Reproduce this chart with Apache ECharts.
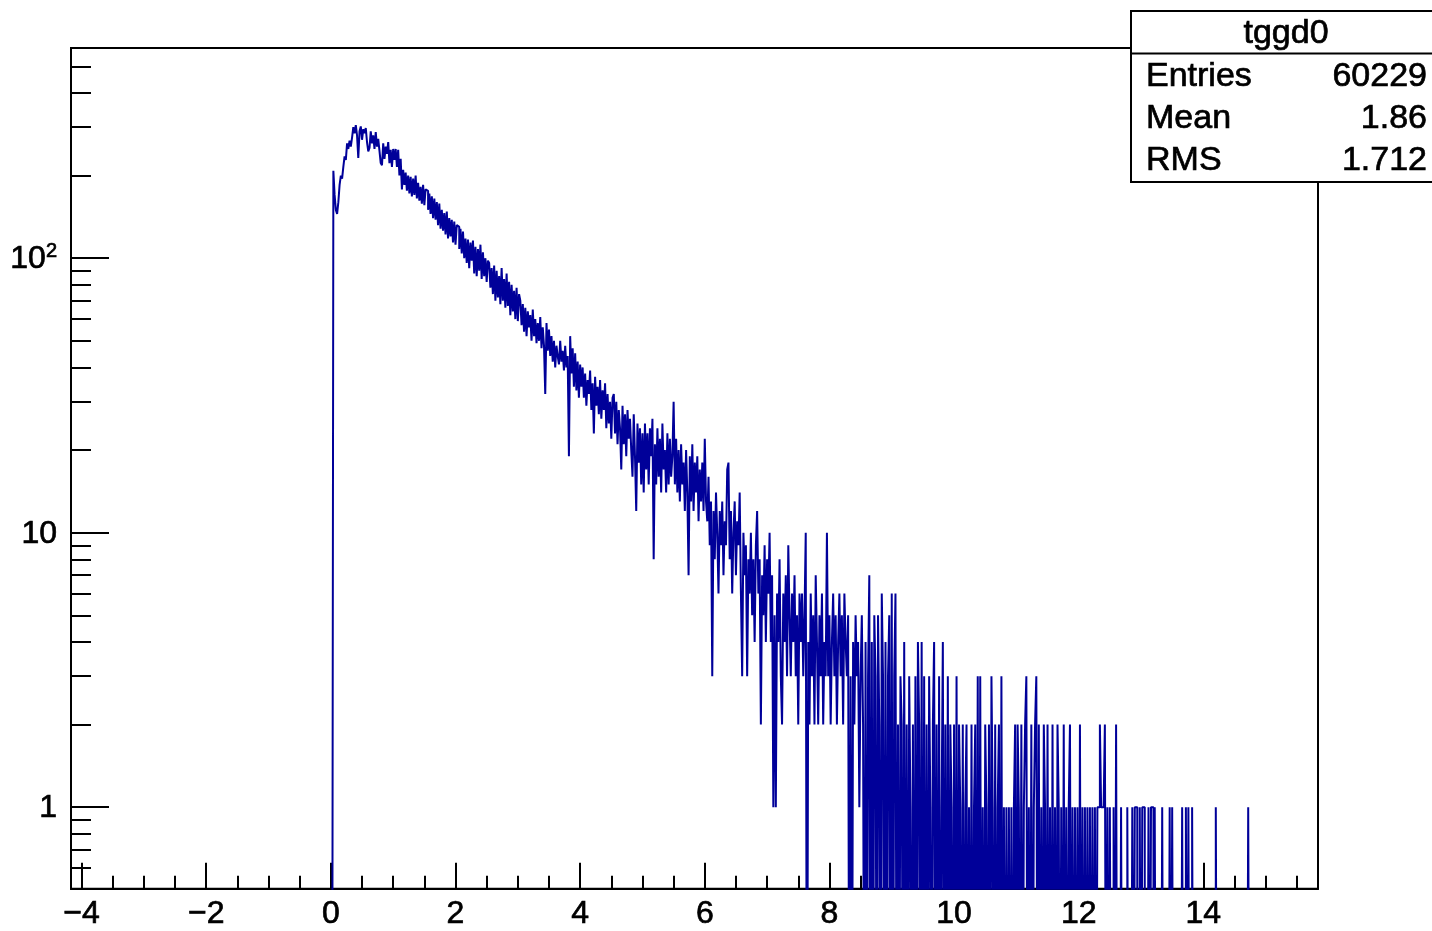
<!DOCTYPE html>
<html><head><meta charset="utf-8">
<script src="https://cdn.jsdelivr.net/npm/echarts@6/dist/echarts.min.js"></script>
<style>html,body{margin:0;padding:0;background:#fff;}#c{width:1432px;height:931px;}</style>
</head><body><div id="c"></div>
<script>
// ---- histogram meta ----
const histName = 'tggd0';
const statLabels = ['Entries', 'Mean', 'RMS'];
const statValues = ['60229', '1.86', '1.712'];

// ---- axes ----
const xRange = [-4.17, 15.84];
const yRange = [0.505, 583];
const xMajorTicks = [-4, -2, 0, 2, 4, 6, 8, 10, 12, 14];
const xMinorTicks = [-3.5, -3, -2.5, -1.5, -1, -0.5, 0.5, 1, 1.5, 2.5, 3, 3.5, 4.5, 5, 5.5, 6.5, 7, 7.5, 8.5, 9, 9.5, 10.5, 11, 11.5, 12.5, 13, 13.5, 14.5, 15, 15.5];
const yMajorTicks = [1, 10, 100];
const yMajorLabels = ['{n|1}', '{n|10}', '{n|10}{s|2}'];
const yMinorTicks = [0.6, 0.7, 0.8, 0.9, 2, 3, 4, 5, 6, 7, 8, 9, 20, 30, 40, 50, 60, 70, 80, 90, 200, 300, 400, 500];

// ---- bins (width 0.02, first bin starts at 0.04) ----
const binStart = 0.04;
const binWidth = 0.02;
const countsRise = [208,170,150,145,160,185,200,195,215,235,228,262,250,268,255,275,300,285,305,280,232,290,302,270,295,
  285,298,265,245,252,290,262,280,250,288,255,272,246,222,218,262,230,255,240,265,222,248,215,250,228];
const countsFall1 = [250,215,248,200,230,178,210,185,205,176,200,172,198,168,195,170,200,165,188,162,182,158,185,156,178,
  176,150,172,145,168,140,165,138,160,132,158,128,150,126,146,122,148,118,140,120,138,114,136,112,132,
  130,108,128,104,125,100,118,96,117,92,114,98,116,88,110,86,108,90,112,84,105,86,100,82,98,
  96,78,92,74,94,70,90,72,86,68,92,70,84,66,88,67,82,62,80,64,76,60,78,59,74];
const countsFall2 = [70,57,68,54,66,52,64,56,62,50,65,52,60,49,58,50,61,47,56,48,32,58,46,55,44,
  52,42,50,40,48,44,41,50,42,46,39,48,40,44,19,52,38,47,34,45,33,42,31,41,34,
  40,31,38,29,36,32,39,28,35,23,37,29,34,27,36,26,33,28,35,24,32,25,30,22,31,
  32,23,30,21,28,24,17,29,21,27,19,28,22,26,20,16,27,19,12,25,18,24,15,23,14];
const countsFall3 = [25,17,23,15,24,19,26,8,21,15,24,16,22,14,25,17,20,14,23,15,22,16,19,30,15,
  22,14,20,13,21,15,18,12,20,14,7,19,13,21,12,18,14,19,11,17,13,18,12,22,13,
  11,16,9,13,3,12,8,14,10,6,12,9,13,7,11,9,17,18,8,12,6,10,13,7,11,
  9,14,6,3,10,7,9,3,8,6,10,5,8,4,9,12,6,8,2,7,5,9,4,8,6];
const countsTail1 = [10,4,7,1,5,1,6,4,8,3,2,6,4,7,3,9,5,3,6,4,7,3,5,2,6,
  4,6,3,5,10,0,4,2,6,3,5,2,7,4,2,5,3,6,2,4,3,10,3,5,2,
  4,6,3,5,2,4,6,3,5,2,6,4,3,5,0,3,0,4,2,5,3,4,1,3,5,
  2,0,4,0,3,7,0,4,0,5,3,0,5,2,0,6,3,0,4,0,3,5,0,6,0,
  3,6,0,2,0,3,2,0,4,0,2,0,3,1,0,2,0,3,0,4,2,0,4,0,3,
  0,2,0,3,1,0,2,4,0,2,0,3,0,1,4,0,2,0,3,0,2,1,0,2,0];
const countsTail2 = [3,0,2,1,0,2,0,1,2,0,1,0,2,0,1,2,0,3,0,3,0,1,0,2,1,
  0,2,0,3,1,0,2,0,1,2,0,3,0,1,0,1,0,1,0,1,0,1,2,0,2,
  1,0,2,0,1,2,3,0,1,0,2,0,1,2,3,0,2,0,1,0,2,1,0,2,0,
  1,0,2,0,1,0,2,1,0,1,0,2,0,1,0,1,2,0,1,0,1,0,1,0,2,
  0,1,0,1,0,1,0,1,0,1,0,1,0,1,1,2,1,1,1,2,0,1,0,1,0];
const countsTail3 = [0,1,0,2,0,0,0,1,0,0,0,0,1,0,0,0,1,0,1,1,0,0,1,0,1,
  1,0,0,0,1,0,1,1,0,1,0,0,0,0,0,1,0,0,0,0,0,1,0,1,0,
  0,0,0,0,0,0,1,0,0,1,0,1,0,0,1,0,0,0,0,0,0,0,0,0,0,
  0,0,0,0,0,0,0,0,1,0,0,0,0,0,0,0,0,0,0,0,0,0,0,0,0,
  0,0,0,0,0,0,0,0,0,1,0];

const counts = [].concat(countsRise, countsFall1, countsFall2, countsFall3, countsTail1, countsTail2, countsTail3);
const floorVal = 0.05; // empty bins drawn below the frame (log scale)
const histData = [[binStart - binWidth, floorVal]];
counts.forEach((c, k) => histData.push([+(binStart + k * binWidth).toFixed(4), c > 0 ? c : floorVal]));
histData.push([+(binStart + counts.length * binWidth).toFixed(4), floorVal]);

const FONT = 'Liberation Sans, Arial, Helvetica, sans-serif';
const TXT_STROKE = 0.7;
const chart = echarts.init(document.getElementById('c'), null, {renderer: 'canvas'});

const gridBox = {left: 71, top: 48, width: 1247, height: 845};
const statBox = {x: 1131, y: 11, w: 302, h: 171, sep: 53.5};

function statText(text, x, y, align) {
  return {type: 'text', z: 101, style: {text, x, y, align, verticalAlign: 'middle', fontSize: 34, fontFamily: FONT,
          fill: '#000', stroke: '#000', lineWidth: TXT_STROKE}};
}
const graphics = [
  {type: 'rect', z: 100, shape: {x: statBox.x, y: statBox.y, width: statBox.w, height: statBox.h}, style: {fill: '#fff', stroke: '#000', lineWidth: 2}},
  {type: 'line', z: 101, shape: {x1: statBox.x, y1: statBox.sep, x2: statBox.x + statBox.w, y2: statBox.sep}, style: {stroke: '#000', lineWidth: 2}},
  statText(histName, statBox.x + 155, 34, 'center')
];
const rowY = [77, 119, 161];
statLabels.forEach((lab, i) => {
  graphics.push(statText(lab, statBox.x + 15, rowY[i], 'left'));
  graphics.push(statText(statValues[i], statBox.x + 296, rowY[i], 'right'));
});

const labelStroke = {textBorderColor: '#000', textBorderWidth: TXT_STROKE};
const option = {
  animation: false,
  backgroundColor: '#fff',
  grid: Object.assign({show: true, borderColor: '#000', borderWidth: 2, backgroundColor: 'rgba(0,0,0,0)', containLabel: false}, gridBox),
  xAxis: [
    {type: 'value', min: xRange[0], max: xRange[1], position: 'bottom',
     axisLine: {show: true, onZero: false, lineStyle: {color: '#000', width: 2}},
     axisTick: {show: true, inside: true, length: 26, lineStyle: {color: '#000', width: 2}, customValues: xMajorTicks},
     axisLabel: Object.assign({show: true, customValues: xMajorTicks, margin: 10, fontSize: 32, fontFamily: FONT, color: '#000',
                 formatter: v => (v < 0 ? '\u2212' + Math.abs(v) : String(v))}, labelStroke),
     splitLine: {show: false}},
    {type: 'value', min: xRange[0], max: xRange[1], position: 'bottom',
     axisLine: {show: false, onZero: false},
     axisTick: {show: true, inside: true, length: 13, lineStyle: {color: '#000', width: 2}, customValues: xMinorTicks},
     axisLabel: {show: false}, splitLine: {show: false}}
  ],
  yAxis: [
    {type: 'log', logBase: 10, min: yRange[0], max: yRange[1], position: 'left',
     axisLine: {show: true, onZero: false, lineStyle: {color: '#000', width: 2}},
     axisTick: {show: true, inside: true, length: 38, lineStyle: {color: '#000', width: 2}, customValues: yMajorTicks},
     axisLabel: {show: true, customValues: yMajorTicks, margin: 14, color: '#000',
                 formatter: v => { const i = yMajorTicks.indexOf(Math.round(v)); return i >= 0 ? yMajorLabels[i] : ''; },
                 rich: {
                   n: Object.assign({fontSize: 32, fontFamily: FONT, color: '#000', verticalAlign: 'bottom', lineHeight: 34}, labelStroke),
                   s: Object.assign({fontSize: 20, fontFamily: FONT, color: '#000', verticalAlign: 'top', lineHeight: 20}, labelStroke)
                 }},
     splitLine: {show: false}},
    {type: 'log', logBase: 10, min: yRange[0], max: yRange[1], position: 'left',
     axisLine: {show: false, onZero: false},
     axisTick: {show: true, inside: true, length: 20, lineStyle: {color: '#000', width: 2}, customValues: yMinorTicks},
     axisLabel: {show: false}, splitLine: {show: false}}
  ],
  series: [{
    name: histName, type: 'line', xAxisIndex: 0, yAxisIndex: 0, step: 'end',
    data: histData, showSymbol: false, symbol: 'none', clip: true,
    lineStyle: {color: '#000099', width: 2}
  }],
  graphic: graphics
};
chart.setOption(option);
</script>
</body></html>
